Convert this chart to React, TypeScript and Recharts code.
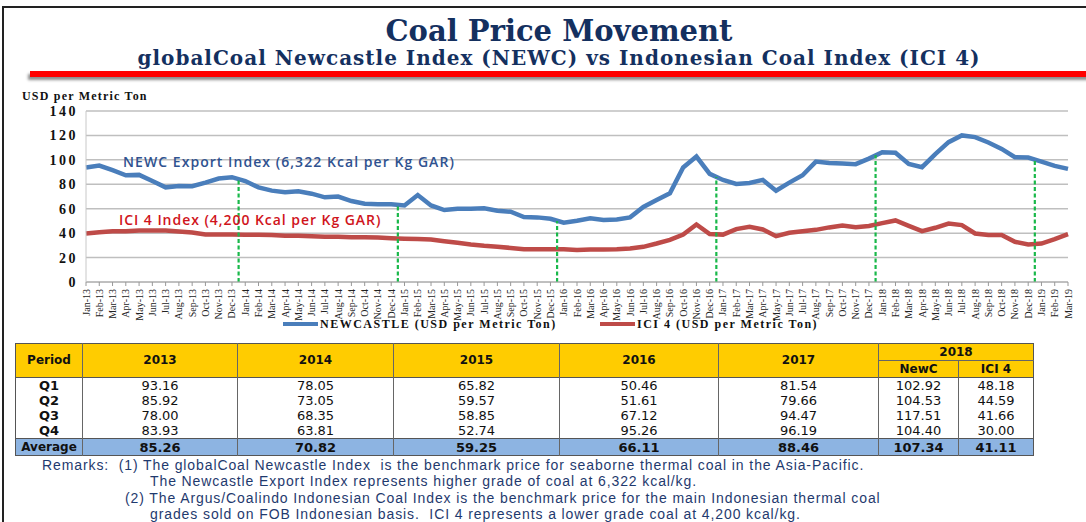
import React from 'react';
import {
  LineChart,
  Line,
  XAxis,
  YAxis,
  CartesianGrid,
  Legend,
  ReferenceLine,
} from 'recharts';

const months = [
  'Jan-13', 'Feb-13', 'Mar-13', 'Apr-13', 'May-13', 'Jun-13', 'Jul-13', 'Aug-13', 'Sep-13', 'Oct-13', 'Nov-13', 'Dec-13',
  'Jan-14', 'Feb-14', 'Mar-14', 'Apr-14', 'May-14', 'Jun-14', 'Jul-14', 'Aug-14', 'Sep-14', 'Oct-14', 'Nov-14', 'Dec-14',
  'Jan-15', 'Feb-15', 'Mar-15', 'Apr-15', 'May-15', 'Jun-15', 'Jul-15', 'Aug-15', 'Sep-15', 'Oct-15', 'Nov-15', 'Dec-15',
  'Jan-16', 'Feb-16', 'Mar-16', 'Apr-16', 'May-16', 'Jun-16', 'Jul-16', 'Aug-16', 'Sep-16', 'Oct-16', 'Nov-16', 'Dec-16',
  'Jan-17', 'Feb-17', 'Mar-17', 'Apr-17', 'May-17', 'Jun-17', 'Jul-17', 'Aug-17', 'Sep-17', 'Oct-17', 'Nov-17', 'Dec-17',
  'Jan-18', 'Feb-18', 'Mar-18', 'Apr-18', 'May-18', 'Jun-18', 'Jul-18', 'Aug-18', 'Sep-18', 'Oct-18', 'Nov-18', 'Dec-18',
  'Jan-19', 'Feb-19', 'Mar-19',
];

const newcastle = [
  93.7, 95.3, 91.5, 87.4, 87.7, 82.7, 77.5, 78.6, 78.4, 81.4, 84.7, 85.8,
  82.7, 77.5, 74.8, 73.4, 74.2, 72.3, 69.3, 69.9, 66.3, 64.1, 63.6, 63.6,
  62.7, 71.2, 62.7, 58.9, 60.0, 60.0, 60.3, 58.4, 57.5, 53.2, 52.9, 51.8,
  48.5, 50.1, 52.1, 50.7, 51.2, 52.9, 61.4, 67.1, 72.6, 93.7, 102.7, 88.5,
  83.5, 80.3, 81.1, 83.6, 74.8, 81.4, 87.4, 98.6, 97.5, 97.0, 96.5, 101.0,
  106.3, 105.8, 96.7, 94.0, 104.7, 114.5, 120.0, 118.6, 114.2, 109.0, 102.2, 101.9,
  98.6, 95.1, 92.6,
];

const ici4 = [
  39.7, 40.8, 41.6, 41.6, 42.2, 42.2, 42.2, 41.4, 40.5, 38.9, 38.9, 38.9,
  38.6, 38.6, 38.4, 37.8, 37.8, 37.5, 37.0, 37.0, 36.7, 36.7, 36.4, 35.9,
  35.5, 35.3, 34.8, 33.4, 32.1, 30.7, 29.6, 28.8, 27.9, 26.8, 26.8, 26.8,
  26.8, 26.3, 26.6, 26.6, 26.8, 27.4, 28.8, 31.5, 34.5, 38.9, 47.1, 39.2,
  38.8, 43.3, 45.2, 43.0, 37.5, 40.3, 41.6, 42.7, 44.7, 46.3, 44.9, 45.8,
  48.2, 50.4, 46.0, 41.6, 44.4, 47.9, 46.6, 39.7, 38.4, 38.4, 32.9, 30.7,
  31.5, 35.1, 39.2,
];

// year-end markers (between Dec and Jan) and the NEWC level they reach up to
const yearBreaks = [11.5, 23.5, 35.5, 47.5, 59.5, 71.5];
const breakTops = [83.5, 63, 50, 86, 104, 100];

const yTicks = [0, 20, 40, 60, 80, 100, 120, 140];

const periods = ['Q1', 'Q2', 'Q3', 'Q4'];
const years = ['2013', '2014', '2015', '2016', '2017'];
const q2013 = ['93.16', '85.92', '78.00', '83.93'];
const q2014 = ['78.05', '73.05', '68.35', '63.81'];
const q2015 = ['65.82', '59.57', '58.85', '52.74'];
const q2016 = ['50.46', '51.61', '67.12', '95.26'];
const q2017 = ['81.54', '79.66', '94.47', '96.19'];
const q2018Newc = ['102.92', '104.53', '117.51', '104.40'];
const q2018Ici = ['48.18', '44.59', '41.66', '30.00'];
const averages = ['85.26', '70.82', '59.25', '66.11', '88.46', '107.34', '41.11'];

const data = months.map((m, i) => ({ i, month: m, newc: newcastle[i], ici: ici4[i] }));
const xTicks = months.map((_, i) => i);

const BLUE = '#4a7ebb';
const RED = '#be4b48';
const NAVY = '#14305f';

const colWidths = [67, 155, 156, 166, 159, 160, 80, 75];

const MonthTick = (props: any) => {
  const { x, y, payload } = props;
  return (
    <g transform={`translate(${x},${y})`}>
      <text
        transform="rotate(-90)"
        x={-1}
        y={0}
        dy={3.5}
        textAnchor="end"
        fontFamily="'Liberation Serif', serif"
        fontSize={10}
        fill="#222"
      >
        {months[payload.value]}
      </text>
    </g>
  );
};

const LegendContent = () => (
  <div
    style={{
      position: 'relative',
      height: 22,
      width: 1086,
      fontFamily: "'Liberation Serif', serif",
      fontWeight: 'bold',
      fontSize: 12,
      letterSpacing: 1.5,
      color: '#111',
    }}
  >
    <div style={{ position: 'absolute', left: 283, top: 0, display: 'flex', alignItems: 'center', height: 14 }}>
      <div style={{ width: 35, height: 4, background: BLUE, marginRight: 2 }} />
      <span>NEWCASTLE (USD per Metric Ton)</span>
    </div>
    <div style={{ position: 'absolute', left: 600, top: 0, display: 'flex', alignItems: 'center', height: 14 }}>
      <div style={{ width: 35, height: 4, background: RED, marginRight: 2 }} />
      <span>ICI 4 (USD per Metric Ton)</span>
    </div>
  </div>
);

const cell: React.CSSProperties = {
  padding: 0,
  textAlign: 'center',
  borderLeft: '1px solid #666',
  height: 15,
  lineHeight: '15px',
};

export default function App() {
  const quarterCols = [q2013, q2014, q2015, q2016, q2017, q2018Newc, q2018Ici];
  return (
    <div
      style={{
        position: 'absolute',
        left: 0,
        top: 0,
        width: 1086,
        height: 522,
        background: '#fff',
        overflow: 'hidden',
      }}
    >
      {/* slide frame */}
      <div
        style={{
          position: 'absolute',
          left: 2,
          top: 6,
          width: 1100,
          height: 540,
          borderTop: '2px solid #222',
          borderLeft: '2px solid #222',
        }}
      />

      <div
        style={{
          position: 'absolute',
          left: 0,
          top: 15,
          width: 1118,
          textAlign: 'center',
          fontFamily: "'DejaVu Serif', serif",
          fontWeight: 'bold',
          color: NAVY,
        }}
      >
        <div style={{ fontSize: 29, lineHeight: '32px' }}>Coal Price Movement</div>
        <div style={{ fontSize: 20, lineHeight: '22px', letterSpacing: 1.0 }}>
          globalCoal Newcastle Index (NEWC) vs Indonesian Coal Index (ICI 4)
        </div>
      </div>
      <div
        style={{
          position: 'absolute',
          left: 30,
          top: 71,
          width: 1070,
          height: 6,
          background: '#ff0000',
          boxShadow: '-2px 3px 3px rgba(0,0,0,0.45)',
        }}
      />

      <div
        style={{
          position: 'absolute',
          left: 22,
          top: 89,
          fontFamily: "'Liberation Serif', serif",
          fontWeight: 'bold',
          fontSize: 12,
          letterSpacing: 1.2,
          color: '#111',
        }}
      >
        USD per Metric Ton
      </div>

      <div style={{ position: 'absolute', left: 0, top: 85 }}>
        <LineChart width={1086} height={254} data={data} margin={{ top: 26, right: 18, left: 0, bottom: 0 }}>
          <CartesianGrid vertical={false} stroke="#bfbfbf" strokeWidth={1.5} />
          <XAxis
            type="number"
            dataKey="i"
            domain={[0, 74]}
            ticks={xTicks}
            interval={0}
            height={35}
            tick={<MonthTick />}
            tickSize={4}
            tickLine={{ stroke: '#999' }}
            axisLine={{ stroke: '#b0b0b0' }}
          />
          <YAxis
            width={86}
            domain={[0, 140]}
            ticks={yTicks}
            tickLine={false}
            axisLine={{ stroke: '#c8c8c8' }}
            tick={{
              fontFamily: "'Liberation Serif', serif",
              fontWeight: 'bold',
              fontSize: 14,
              letterSpacing: 2.5,
              fill: '#111',
            }}
          />
          <Legend verticalAlign="bottom" content={<LegendContent />} wrapperStyle={{ left: 0, width: 1086 }} />
          <Line
            type="linear"
            dataKey="newc"
            stroke={BLUE}
            strokeWidth={4.5}
            dot={false}
            isAnimationActive={false}
            name="NEWCASTLE (USD per Metric Ton)"
          />
          <Line
            type="linear"
            dataKey="ici"
            stroke={RED}
            strokeWidth={4.5}
            dot={false}
            isAnimationActive={false}
            name="ICI 4 (USD per Metric Ton)"
          />
          {yearBreaks.map((x, k) => (
            <ReferenceLine
              key={x}
              segment={[
                { x, y: 0 },
                { x, y: breakTops[k] },
              ]}
              stroke="#19b84a"
              strokeWidth={2.2}
              strokeDasharray="4 2.5"
            />
          ))}
        </LineChart>
      </div>

      <div
        style={{
          position: 'absolute',
          left: 123,
          top: 152,
          fontFamily: "'Open Sans', sans-serif",
          fontWeight: 600,
          fontSize: 14,
          letterSpacing: 1.05,
          color: '#2f5290',
          whiteSpace: 'nowrap',
        }}
      >
        NEWC Export Index (6,322 Kcal per Kg GAR)
      </div>
      <div
        style={{
          position: 'absolute',
          left: 119,
          top: 210,
          fontFamily: "'Open Sans', sans-serif",
          fontWeight: 600,
          fontSize: 14,
          letterSpacing: 0.95,
          color: '#d0141c',
          whiteSpace: 'nowrap',
        }}
      >
        ICI 4 Index (4,200 Kcal per Kg GAR)
      </div>

      <table
        style={{
          position: 'absolute',
          left: 15,
          top: 343,
          borderCollapse: 'collapse',
          tableLayout: 'fixed',
          border: '1px solid #555',
          fontFamily: "'DejaVu Sans', sans-serif",
          fontSize: 13,
          color: '#111',
        }}
      >
        <colgroup>
          {colWidths.map((w, k) => (
            <col key={k} style={{ width: w }} />
          ))}
        </colgroup>
        <thead>
          <tr style={{ background: '#ffcc00', fontWeight: 'bold', fontSize: 12 }}>
            <th rowSpan={2} style={{ ...cell, height: 32, borderLeft: 'none' }}>Period</th>
            {years.map((y) => (
              <th key={y} rowSpan={2} style={{ ...cell, height: 32 }}>{y}</th>
            ))}
            <th colSpan={2} style={{ ...cell, height: 16, borderBottom: '1px solid #666' }}>2018</th>
          </tr>
          <tr style={{ background: '#ffcc00', fontWeight: 'bold', fontSize: 12 }}>
            <th style={{ ...cell, height: 16 }}>NewC</th>
            <th style={{ ...cell, height: 16 }}>ICI 4</th>
          </tr>
        </thead>
        <tbody>
          {periods.map((p, r) => (
            <tr key={p} style={{ borderTop: r === 0 ? '1px solid #555' : 'none' }}>
              <td style={{ ...cell, borderLeft: 'none', fontWeight: 'bold' }}>{p}</td>
              {quarterCols.map((col, c) => (
                <td key={c} style={cell}>{col[r]}</td>
              ))}
            </tr>
          ))}
          <tr style={{ background: '#8db4e2', fontWeight: 'bold', borderTop: '1px solid #555' }}>
            <td style={{ ...cell, height: 16, borderLeft: 'none', fontSize: 12 }}>Average</td>
            {averages.map((a, c) => (
              <td key={c} style={{ ...cell, height: 16 }}>{a}</td>
            ))}
          </tr>
        </tbody>
      </table>

      <div
        style={{
          position: 'absolute',
          left: 0,
          top: 457,
          fontFamily: "'Liberation Sans', sans-serif",
          fontSize: 14,
          letterSpacing: 0.9,
          color: '#1f3a6e',
          whiteSpace: 'pre',
          lineHeight: '16.4px',
        }}
      >
        <div style={{ paddingLeft: 42 }}>Remarks:  (1) The globalCoal Newcastle Index  is the benchmark price for seaborne thermal coal in the Asia-Pacific.</div>
        <div style={{ paddingLeft: 150 }}>The Newcastle Export Index represents higher grade of coal at 6,322 kcal/kg.</div>
        <div style={{ paddingLeft: 125 }}>(2) The Argus/Coalindo Indonesian Coal Index is the benchmark price for the main Indonesian thermal coal</div>
        <div style={{ paddingLeft: 150 }}>grades sold on FOB Indonesian basis.  ICI 4 represents a lower grade coal at 4,200 kcal/kg.</div>
      </div>
    </div>
  );
}
